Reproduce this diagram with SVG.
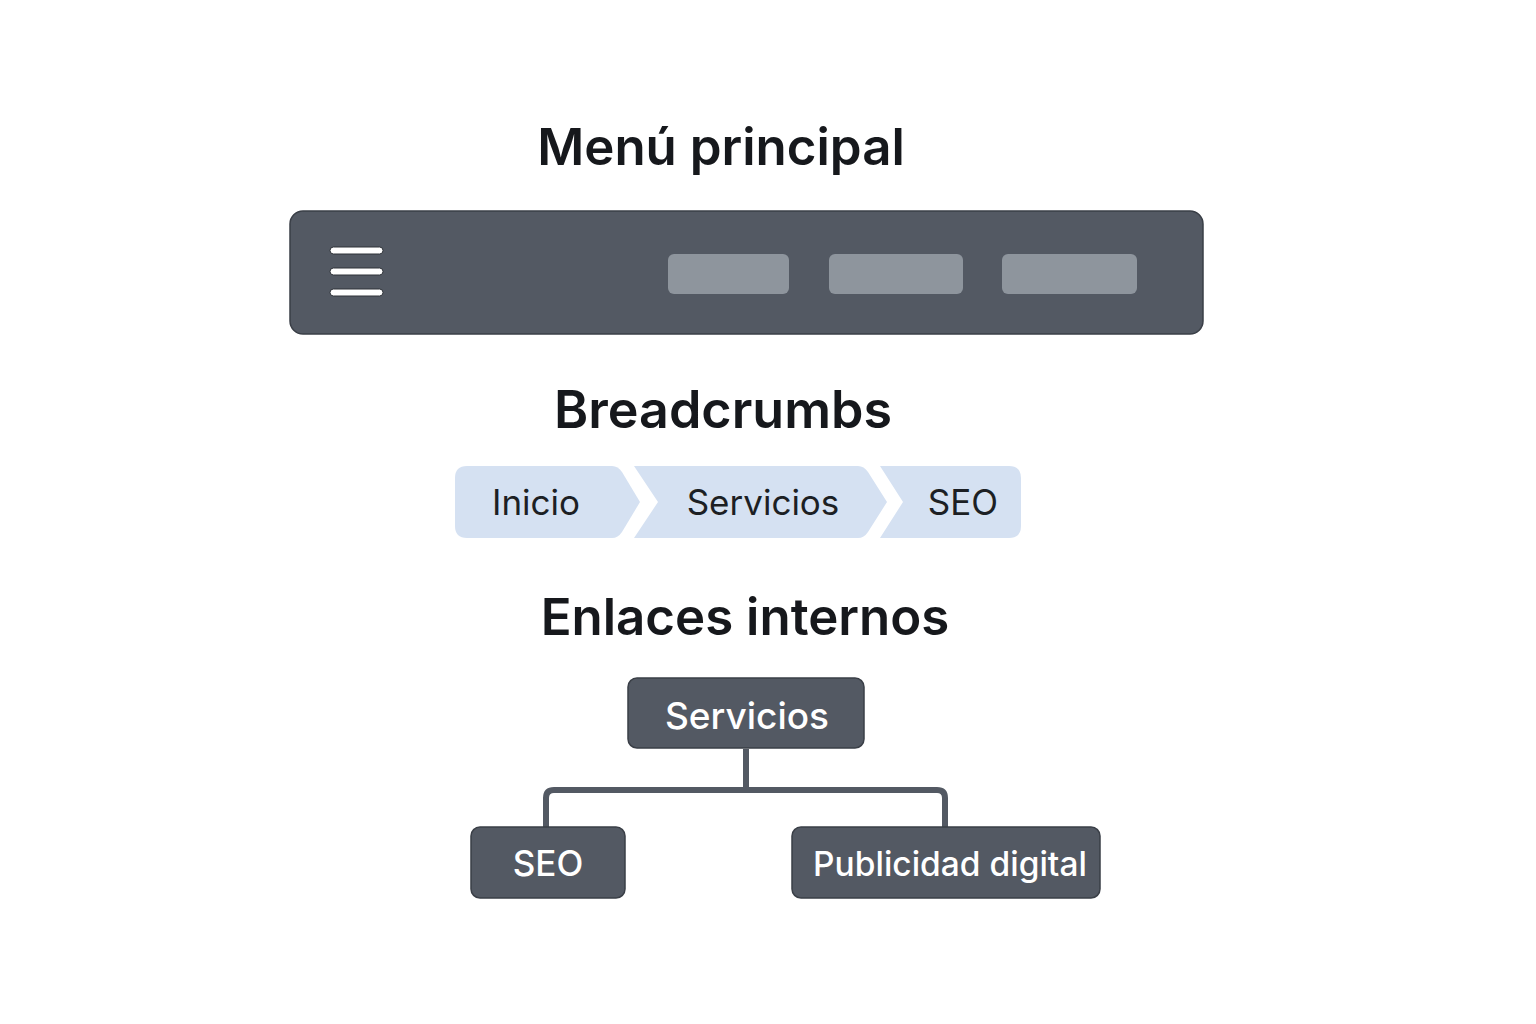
<svg xmlns="http://www.w3.org/2000/svg" width="1536" height="1024" viewBox="0 0 1536 1024">
<style>
text{font-family:Inter,"Noto Sans","Liberation Sans",sans-serif}
.title{font-size:51px;font-weight:600;fill:#16181c;text-anchor:middle}
.crumb{fill:#d5e1f2}
.crumbt{font-size:35px;fill:#1c1f24;text-anchor:middle}
.box{fill:#535963;stroke:#3a3f47;stroke-width:1.5}
.boxt{font-size:37px;fill:#ffffff;text-anchor:middle;font-weight:500}
.pill{fill:#8e959d}
.ham{fill:#ffffff;stroke:#2e3238;stroke-width:1}
.conn{fill:none;stroke:#535963;stroke-width:6;stroke-linejoin:round}
</style>
<rect width="1536" height="1024" fill="#ffffff"/>
<g id="menu">
<text class="title" x="721" y="165">Menú principal</text>
<rect class="box" x="290" y="211" width="913" height="123" rx="13"/>
<rect class="ham" x="330" y="247" width="53" height="7" rx="3.5"/>
<rect class="ham" x="330" y="268" width="53" height="7" rx="3.5"/>
<rect class="ham" x="330" y="289" width="53" height="7" rx="3.5"/>
<rect class="pill" x="668" y="254" width="121" height="40" rx="6"/>
<rect class="pill" x="829" y="254" width="134" height="40" rx="6"/>
<rect class="pill" x="1002" y="254" width="135" height="40" rx="6"/>
</g>
<g id="breadcrumbs">
<text class="title" x="723" y="428" style="font-size:52px">Breadcrumbs</text>
<g id="crumb-inicio">
<path class="crumb" d="M467 466 H612 Q618 466 622 472 L640 502 L622 532 Q618 538 612 538 H467 Q455 538 455 526 V478 Q455 466 467 466 Z"/>
<text class="crumbt" x="536" y="515">Inicio</text>
</g>
<g id="crumb-servicios">
<path class="crumb" d="M634 466 H858 Q864 466 868 472 L887 502 L868 532 Q864 538 858 538 H634 L658 502 Z"/>
<text class="crumbt" x="763" y="515">Servicios</text>
</g>
<g id="crumb-seo">
<path class="crumb" d="M880 466 H1009 Q1021 466 1021 478 V526 Q1021 538 1009 538 H880 L903 502 Z"/>
<text class="crumbt" x="963" y="515">SEO</text>
</g>
</g>
<g id="enlaces">
<text class="title" x="745" y="635">Enlaces internos</text>
</g>
<g id="connectors">
<path class="conn" d="M746 749 V790 M546 828 V798 Q546 790 554 790 H937 Q945 790 945 798 V828"/>
</g>
<g id="node-servicios">
<rect class="box" x="628" y="678" width="236" height="70" rx="9"/>
<text class="boxt" x="747" y="729">Servicios</text>
</g>
<g id="node-seo">
<rect class="box" x="471" y="827" width="154" height="71" rx="9"/>
<text class="boxt" x="548" y="876" style="font-size:35px">SEO</text>
</g>
<g id="node-publicidad">
<rect class="box" x="792" y="827" width="308" height="71" rx="9"/>
<text class="boxt" x="950" y="876" style="font-size:33.5px">Publicidad digital</text>
</g>
</svg>
